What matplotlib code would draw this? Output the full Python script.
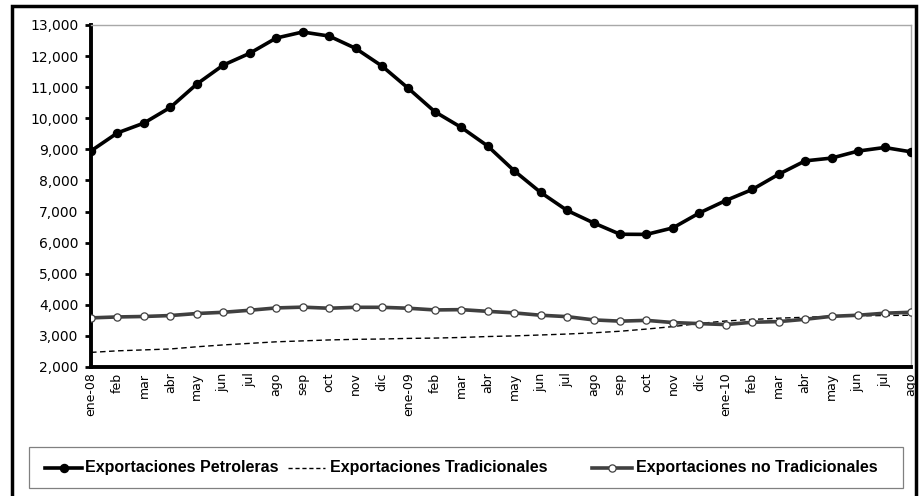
import matplotlib
matplotlib.use("Agg")
import matplotlib.pyplot as plt
from matplotlib.patches import Rectangle
from matplotlib.lines import Line2D
from matplotlib.ticker import FuncFormatter, FixedLocator

plt.rcParams['font.family'] = ['DejaVu Sans']

months = ["ene-08", "feb", "mar", "abr", "may", "jun", "jul", "ago", "sep", "oct", "nov", "dic",
          "ene-09", "feb", "mar", "abr", "may", "jun", "jul", "ago", "sep", "oct", "nov", "dic",
          "ene-10", "feb", "mar", "abr", "may", "jun", "jul", "ago"]

petroleras = [8950, 9530, 9845, 10350, 11100, 11710, 12090, 12580, 12775, 12645, 12250, 11680,
              10960, 10210, 9705, 9105, 8310, 7615, 7035, 6635, 6270, 6265, 6475, 6955,
              7355, 7710, 8200, 8630, 8720, 8945, 9060, 8920]

tradicionales = [2470, 2520, 2550, 2580, 2650, 2710, 2760, 2810, 2840, 2870, 2890, 2900,
                 2920, 2930, 2950, 2980, 3000, 3030, 3060, 3100, 3150, 3220, 3300, 3400,
                 3480, 3530, 3570, 3600, 3630, 3645, 3655, 3665]

no_tradicionales = [3580, 3610, 3625, 3655, 3720, 3760, 3825, 3900, 3925, 3890, 3920, 3920,
                    3890, 3835, 3845, 3790, 3740, 3665, 3620, 3515, 3475, 3500, 3430, 3395,
                    3365, 3440, 3460, 3535, 3630, 3665, 3730, 3760]

series_names = ["Exportaciones Petroleras", "Exportaciones Tradicionales",
                "Exportaciones no Tradicionales"]

x = list(range(len(months)))

W, H = 923, 496
fig = plt.figure(figsize=(W/100, H/100), dpi=100)
ax = fig.add_axes([91/W, 1-367/H, (911-91)/W, (367-25)/H])

styles = [
    dict(color="black", lw=2.6, marker="o", ms=5.8, mfc="black", mec="black"),
    dict(color="black", lw=1.0, ls=(0, (4, 2.5))),
    dict(color="#404040", lw=2.6, marker="o", ms=5.2, mfc="white", mec="#404040", mew=0.9),
]

ax.plot(x, tradicionales, zorder=2, **styles[1])
ax.plot(x, no_tradicionales, zorder=3, **styles[2])
ax.plot(x, petroleras, zorder=4, **styles[0])

ax.set_xlim(0, len(months) - 1)
ax.set_ylim(2000, 13000)
ax.set_yticks(range(2000, 13001, 1000))
ax.yaxis.set_major_formatter(FuncFormatter(lambda v, p: f"{int(v):,}"))

ax.set_xticks(x)
ax.set_xticklabels(months, rotation=90, ha="center", va="top")
ax.xaxis.set_minor_locator(FixedLocator(list(range(0, len(months), 6))))
ax.tick_params(axis="x", which="major", length=0, pad=4, labelsize=9)
ax.tick_params(axis="x", which="minor", length=4, width=2, direction="out")
ax.tick_params(axis="y", length=4, width=2, direction="out", labelsize=10, pad=5)

for s in ("left", "bottom"):
    ax.spines[s].set_linewidth(2.8)
    ax.spines[s].set_color("black")
for s in ("top", "right"):
    ax.spines[s].set_linewidth(1.0)
    ax.spines[s].set_color("#a8a8a8")

# outer chart frame
fig.patches.append(Rectangle((11.5/W, -0.05), (915.5-11.5)/W, 1.05 - 6/H,
                             transform=fig.transFigure, fill=False, ec="black", lw=2.5))

# legend box
fig.patches.append(Rectangle((29/W, 1-488/H), (903-29)/W, (488-447)/H,
                             transform=fig.transFigure, fill=False, ec="#808080", lw=0.9))

# legend entries: (handle start, handle end, text start) in pixels
leg_pos = [(45, 82, 85), (288, 325, 330), (592, 632, 636)]
ly = 1 - 467.5/H
for (h0, h1, t0), name, st in zip(leg_pos, series_names, styles):
    st2 = dict(st)
    mk = st2.pop("marker", None)
    ms = st2.pop("ms", None)
    mfc = st2.pop("mfc", None)
    mec = st2.pop("mec", None)
    mew = st2.pop("mew", 1.0)
    if st2.get("ls") is not None:
        st2["ls"] = (0, (3, 2))
    fig.add_artist(Line2D([h0/W, h1/W], [ly, ly], transform=fig.transFigure, **st2))
    if mk:
        fig.add_artist(Line2D([(h0+h1)/2/W], [ly], transform=fig.transFigure, ls="none",
                              marker=mk, ms=ms, mfc=mfc, mec=mec, mew=mew))
    fig.text(t0/W, ly, name, ha="left", va="center", family="Liberation Sans",
             weight="bold", size=11.5)

fig.savefig("out.png", dpi=100)
